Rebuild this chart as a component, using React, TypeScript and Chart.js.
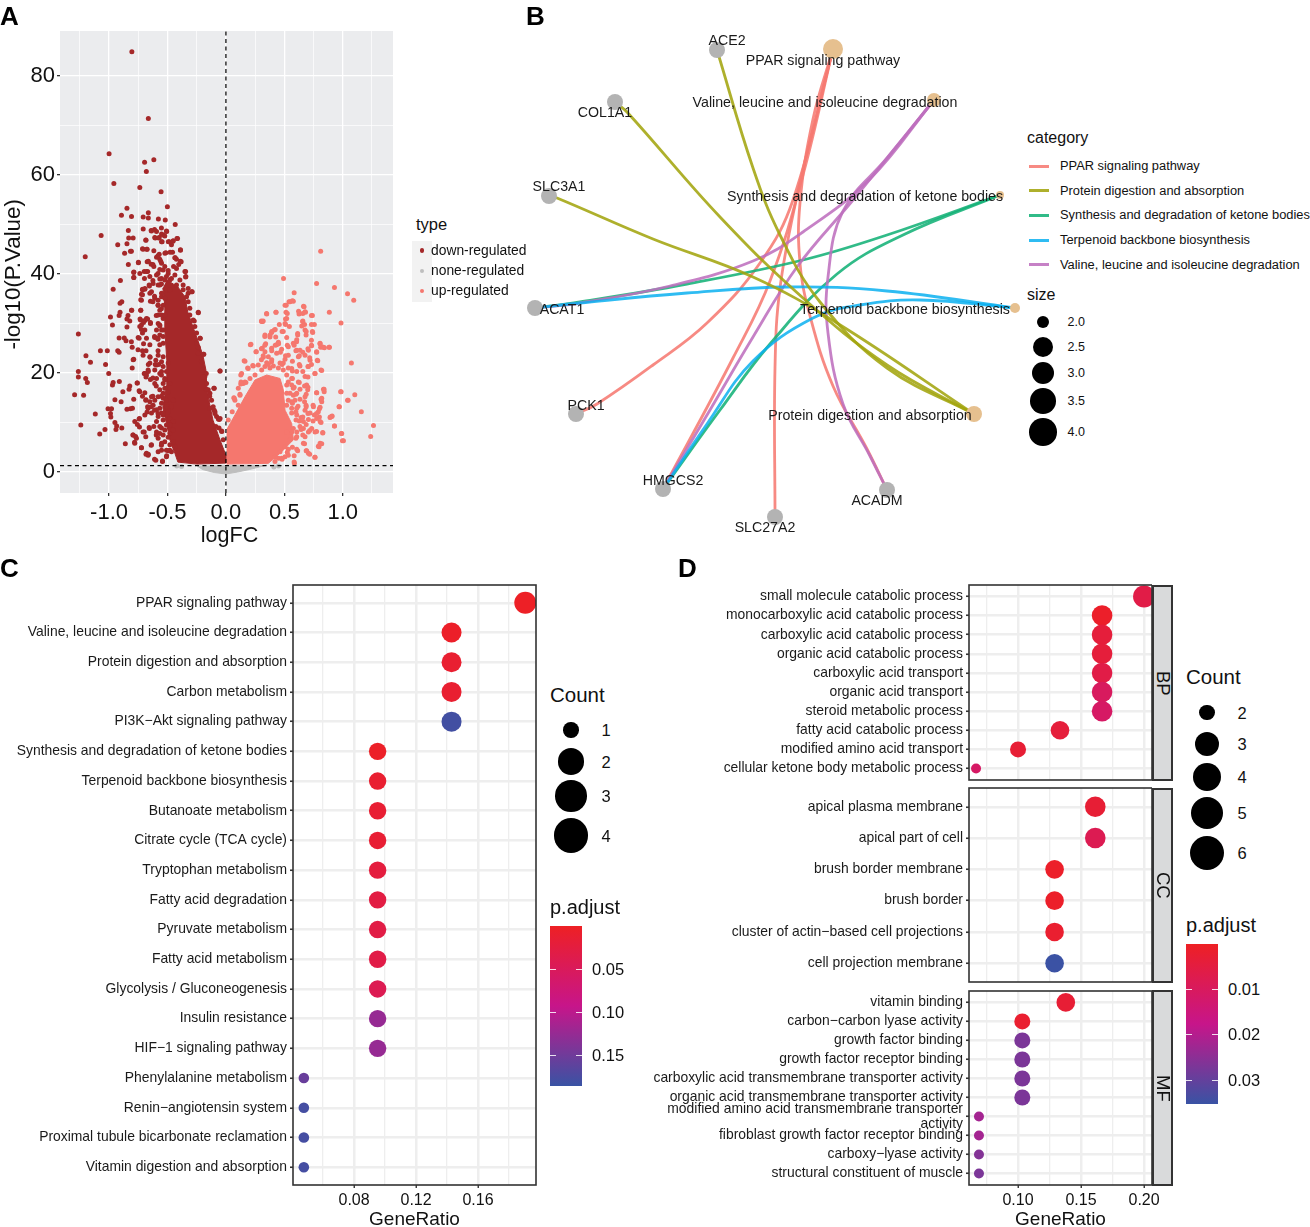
import React, { useEffect, useRef } from "react";
import { Chart, registerables } from "chart.js";

Chart.register(...registerables);
const FONT = '"Liberation Sans", Arial, sans-serif';
Chart.defaults.font.family = FONT;
Chart.defaults.color = "#111";

/* ---------- Panel A: values. The solid core of each cloud,
   where single dots cannot be told apart, is its traced outline. ---------- */
const volcanoXMajor = [-1, -0.5, 0, 0.5, 1];
const volcanoXMinor = [-1.25, -0.75, -0.25, 0.25, 0.75, 1.25];
const volcanoYMajor = [0, 20, 40, 60, 80];
const volcanoYMinor = [10, 30, 50, 70];
const downCore = [[-0.506,38.8],[-0.411,37.4],[-0.351,35.4],[-0.326,32.3],[-0.266,28.3],[-0.197,23.6],[-0.171,20.6],[-0.163,17.2],[-0.146,14.5],[-0.111,10.5],[-0.051,6.5],[0,3.4],[0,1.8],[-0.248,1.6],[-0.411,2],[-0.437,3.8],[-0.48,6.5],[-0.506,9.5],[-0.54,13.1],[-0.506,17.6],[-0.506,22.6],[-0.523,28.7],[-0.523,33.7],[-0.54,37.2]];
const upCore = [[0.006,8.5],[0.077,11.5],[0.163,15.2],[0.249,18.6],[0.349,19.6],[0.463,18.9],[0.491,16.6],[0.506,12.5],[0.563,9.8],[0.577,6.5],[0.477,4.1],[0.363,1.75],[0.006,1.6]];
const noneCore = [[-0.25,1.3],[-0.2,0.5],[-0.1,-0.1],[0,-0.4],[0.1,0],[0.2,0.5],[0.35,1.4]];
const downDots = [[-0.805,84.9],[-0.664,71.4],[-1,64.3],[-0.696,62.6],[-0.617,63.1],[-0.681,60.7],[-0.959,58.3],[-0.737,57.5],[-0.555,56.6],[-0.501,53.6],[-0.847,53.3],[-0.894,51.9],[-0.808,51.6],[-0.664,52.4],[-0.708,51.5],[-0.664,51.3],[-1.068,47.8],[-1.204,43.5],
[-1.263,27.9],[-1.263,20.3],[-1.263,19.2],[-1.295,15.6],[-1.242,9.5],[-1.218,15.5],[-1.198,23.5],[-1.159,22.2],[-1.2,18.9],[-1.186,18.1],[-1.118,11.7],[-1.08,7.7],[-1.074,24.5],[-1.015,24.5],[-1.03,21.7],[-1.003,19.9],[-1.035,8.6],[-1.009,12.8],[-0.979,12.8],[-0.988,11.8],[-0.985,11.1],[-0.965,18.1],[-0.971,17.6],[-0.912,18.3],[-0.988,31.3],[-0.971,29.7],[-0.965,36.9],[-0.903,38.7],[-0.926,45.9],[-0.867,44.2],[-0.817,44.6],[-0.847,46.1],[-0.832,47.3],[-0.835,48.8],[-0.794,47.3],[-0.708,49.1],[-0.835,41.9],[-0.749,42.3],[-0.788,40.4],[-0.788,39.3],[-0.699,40.5],[-0.67,40.5],[-0.664,42.6],[-0.625,41.9],[-0.714,45.1],[-0.678,45],[-0.684,46.8],[-0.64,48.8],[-0.611,49],[-0.605,47.3],[-0.575,47.3],[-0.546,46.5],[-0.493,46.5],[-0.454,46.6],[-0.419,47.2],[-0.507,48.6],[-0.552,49.3],[-0.434,50],[-0.519,50.9],[-0.578,51.1],[-0.389,44.9],[-0.478,44.4],[-0.522,44.2],[-0.434,43.3],[-0.389,42.6],[-0.581,43.7],[-0.558,42.6],
[-0.891,34.4],[-0.906,34.1],[-0.906,32.3],[-0.914,31.6],[-0.808,32.7],[-0.838,31.6],[-0.847,30.9],[-0.823,30.5],[-0.847,29.3],[-0.729,32.7],[-0.729,34.8],[-0.723,35.9],[-0.714,36.9],[-0.693,37.1],[-0.735,30.9],[-0.705,30.2],[-0.723,28.8],[-0.743,27],[-0.705,25.9],[-0.67,30.9],[-0.646,30.2],[-0.914,27.1],[-0.87,27.1],[-0.855,26.5],[-0.926,24.5],[-0.914,24.2],[-0.802,25.2],[-0.794,22.7],[-0.802,21],[-0.752,24.7],[-0.714,24.5],[-0.684,24.5],[-0.649,23.2],[-0.664,21.7],[-0.758,18],[-0.823,17.4],[-0.829,16.7],[-0.882,16.2],[-0.897,14.2],[-0.95,14.6],[-0.847,12.7],[-0.817,12.8],[-0.95,10],[-0.935,9.3],[-0.941,8.6],[-0.891,8.9],[-0.861,5.7],[-0.796,7.5],[-0.782,6],[-0.773,7.2],[-0.743,10.7],[-0.758,9.6],[-0.74,9.1],[-0.723,4.9],[-0.684,3.6],[-0.64,5.4],[-0.664,3.6],[-0.743,16.4],[-0.714,15.3],[-0.684,14.6],[-0.67,13.2],[-0.675,12.1],[-0.625,15.3],[-0.64,13.2],[-0.699,8.1],[-0.655,8.8],[-0.611,12.5],[-0.664,20.3],[-0.699,19.9],[-0.684,19.2],[-0.625,19],[-0.605,21.7],[-0.581,24.5],[-0.611,27.4],[-0.581,27],[-0.566,29.5],[-0.625,34.4],[-0.611,35.5],[-0.655,37.6],[-0.625,38.7],[-0.581,40.1],[-0.566,39],[-0.552,38],[-0.537,40.8],[-0.581,33.7],[-0.552,33],[-0.596,31.6],[-0.575,21.7],[-0.552,19.6],[-0.596,17.4],[-0.552,15.3],[-0.581,11.8],[-0.552,8.9],[-0.596,7.5],[-0.552,5.4],[-0.507,3.3],[-0.611,2.6],[-0.543,2.2],[-0.493,4.3],[-0.537,11.8],
[-0.05,20.4],[-0.103,16.9],[-0.1,12.5],[-0.065,10.7],[-0.05,10.8],[-0.035,8.2],[-0.236,32.2],[-0.292,36.4],[-0.192,23.8],[-0.221,27],[-0.271,30.5],[-0.345,40.5],[-0.345,39.4],[-0.168,19.9],[-0.198,19.2],[-0.139,15.3],[-0.168,16.7],[-0.094,11.8],[-0.059,8.9],[-0.404,41.9],[-0.448,41.5]];
const downDotsLower = [[-0.709,23.6],[-0.651,23.3],[-0.789,22.8],[-0.6,22.6],[-0.551,22.3],[-0.651,22],[-0.594,21.6],[-0.537,21.3],[-0.666,20.6],[-0.694,19.9],[-0.609,20.6],[-0.551,20.3],[-0.68,19.6],[-0.646,18.7],[-0.594,18.9],[-0.523,18.9],[-0.537,17.9],[-0.609,17.9],[-0.76,18],[-0.48,17.9],[-0.566,16.6],[-0.523,16.9],[-0.737,16.2],[-0.694,16],[-0.637,15.2],[-0.686,14.5],[-0.651,14.2],[-0.609,14.5],[-0.537,14.9],[-0.789,14.7],[-0.623,13.5],[-0.666,12.9],[-0.566,12.9],[-0.509,13.2],[-0.8,12.9],[-0.694,11.5],[-0.637,11.9],[-0.551,11.9],[-0.509,11.5],[-0.594,10.2],[-0.74,10.8],[-0.78,10.2],[-0.537,10.5],[-0.48,10.8],[-0.566,9.2],[-0.509,9.5],[-0.451,10.2],[-0.657,9],[-0.709,8.1],[-0.686,7.1],[-0.594,8.1],[-0.537,7.5],[-0.58,6.8],[-0.48,7.8],[-0.523,6.1],[-0.794,7.5],[-0.766,6.8],[-0.78,5.8],[-0.637,5.5],[-0.723,4.9],[-0.68,3.8],[-0.666,3.4],[-0.58,4.1],[-0.551,4.4],[-0.509,3.1],[-0.466,4.1],[-0.48,5.5],[-0.6,2.4],[-0.543,2.1],[-0.451,6.1],
[-0.051,20.4],[-0.1,16.9],[-0.137,15.9],[-0.137,12.9],[-0.094,12.2],[-0.123,14.5],[-0.057,10.6],[-0.086,9.2],[-0.037,8.3],[-0.023,6.5],[-0.189,23.8],[-0.237,24],[-0.209,22.3],[-0.2,20.6],[-0.18,19.3],[-0.166,17.9],[-0.151,16.6],[-0.109,13.2],[-0.08,11.2],
[-0.494,16.2],[-0.537,15.9],[-0.58,15.2],[-0.509,14.5],[-0.551,13.9],[-0.594,12.6],[-0.494,12.2],[-0.537,11.5],[-0.58,11.2],[-0.48,9.5],[-0.523,8.5],[-0.566,7.8],[-0.451,8.5],[-0.494,7],[-0.551,5.8],[-0.48,4.4],[-0.437,5.1],[-0.509,4.4],[-0.617,9.2],[-0.466,13.2],[-0.451,14.5],[-0.523,18.6],[-0.566,19.9],[-0.509,20.3],[-0.494,22],[-0.537,23.3],[-0.58,23.6]];
const downDotsUpper = [[-0.637,48.7],[-0.594,48.6],[-0.551,48.1],[-0.537,47.9],[-0.509,48.7],[-0.609,47.4],[-0.571,47.4],[-0.523,47.7],[-0.414,47.2],[-0.451,46.7],[-0.486,46.5],[-0.551,46.5],[-0.686,46.9],[-0.466,45.9],[-0.709,45],[-0.674,45],[-0.617,44.7],[-0.389,44.8],[-0.809,44.6],[-0.514,44.3],[-0.457,44.4],[-0.571,44],[-0.594,43.4],[-0.437,43.3],[-0.423,43],[-0.566,43],[-0.674,42.5],[-0.383,42.5],[-0.749,42.4],[-0.551,42.2],[-0.64,42],[-0.523,41.5],[-0.617,41.5],[-0.566,40.9],[-0.423,41.1],[-0.494,40.7],[-0.351,40.5],[-0.789,40.3],[-0.737,40.1],[-0.68,40.5],[-0.594,39.8],[-0.651,39.5],[-0.343,39.5],[-0.789,39.3],[-0.697,39.1],[-0.394,38.8],[-0.437,39.8],[-0.551,39.1],[-0.623,38.1],[-0.657,37.8],[-0.366,37.8],[-0.58,37.8],[-0.694,36.9],[-0.714,36.8],[-0.637,36.4],[-0.651,36.1],[-0.289,36.4],[-0.323,36.1],[-0.714,35.8],[-0.723,34.7],[-0.609,35.1],[-0.646,34.5],[-0.58,34.7],[-0.551,35.4],[-0.323,34.4],[-0.309,33.1],[-0.566,32.7],[-0.729,32.7],[-0.237,32.3],[-0.806,32.7],[-0.58,31.7],[-0.537,31],[-0.68,31],[-0.731,30.7],[-0.694,30.6],[-0.646,30],[-0.566,29.7],[-0.723,29.7],[-0.737,29.4],[-0.266,29.4],[-0.551,28.7],[-0.694,28.7],[-0.251,28.1],[-0.714,28.1],[-0.566,27.7],[-0.22,27],[-0.609,27.2],[-0.68,27],[-0.751,27.2],[-0.583,26.8],[-0.251,26],[-0.237,25.2],[-0.537,26],[-0.651,25.7],[-0.809,26.3],[-0.28,30.7],[-0.309,31.7],[-0.509,39.5],[-0.48,38.8],
[-0.509,36.8],[-0.551,36.1],[-0.523,35.1],[-0.58,33.7],[-0.537,33.7],[-0.551,31.7],[-0.58,30],[-0.537,28.7],[-0.566,25.7],[-0.537,27.4],[-0.594,28.7],[-0.523,31.7],[-0.48,36.8],[-0.566,37.8],[-0.523,38.8],[-0.494,40.1],[-0.466,39.1],[-0.423,37.8],[-0.366,36.8],[-0.337,35.4],[-0.323,37.1]];
const upDots = [[0.811,44.6],[0.493,39.1],[0.776,38.1],[0.929,37.3],[1.041,36],[1.094,34.7],[0.584,36.2],[0.54,34.4],[0.569,34.6],[0.516,33.7],[0.664,33.5],[0.885,32.3],[0.622,32.5],[0.658,32],[0.681,32.3],[0.732,31.6],[0.428,32.3],[0.348,32],[0.525,32],[0.985,30.1],[0.304,30.5],[0.319,30.5],[0.51,30.9],[0.51,29.8],[0.673,29.8],[0.658,30.5],[0.732,29.8],[0.74,28.4],[0.687,28.4],[0.422,28.8],[0.392,28.4],[0.481,28.4],[0.378,27.7],[0.614,27.7],[0.732,26.6],[0.333,27.4],[0.605,26.3],[0.209,25.7],[0.333,25.6],[0.422,25.6],[0.451,25.9],[0.525,25.6],[0.584,25.6],[0.702,24.9],[0.732,25.6],[0.805,25.9],[0.811,25.2],[0.835,25.2],[0.882,25.2],[0.304,24.9],[0.26,24.3],[0.392,24.5],[0.466,24.2],[0.599,24.5],[0.658,24.2],[0.776,24.3],[0.319,23.5],[0.51,23.5],[0.628,23.5],[0.717,23.1],[0.304,22.7],[0.156,22.5],[0.392,22.7],[0.569,22.4],[0.782,22.6],[1.074,22],[0.363,21.7],[0.481,21.7],[0.628,21.7],[0.732,21.7],[0.702,21.3],[0.23,21.5],[0.127,19.6],[0.186,21],[0.814,20.6],[0.569,20.4],[0.658,20.3],[0.761,19.9],[0.569,18.9],[0.702,19.2],[0.628,18.1],[0.127,17.8],[0.171,18.1],[0.673,17.4],[0.584,17.1],[0.702,17.1],[0.835,16.7],[0.982,16.2],[0.776,16],[0.841,16.2],[0.599,15.7],[0.687,15.7],[1.103,15.6],[0.814,14.7],[1.041,14.5],[0.068,15],[0.121,15.5],[0.673,14.2],[0.569,13.9],[0.746,13.5],[0.687,13.2],[0.617,13.3],[0.8,12.8],[0.968,13.2],[0.599,12.1],[1.159,12.2],[0.776,11.8],[0.8,11.1],[0.658,11.1],[0.702,11.8],[0.894,11.1],[0.909,11.3],[0.628,10.3],[0.746,10.3],[0.814,10],[0.687,9.6],[0.929,9.3],[1.263,9.4],[0.643,8.6],[0.717,8.4],[0.776,8.2],[0.988,7.8],[0.829,7.9],[1.239,7.2],[0.997,6.3],[0.658,7.5],[0.599,6.8],[0.673,5.7],[0.82,5.7],[0.791,5.2],[0.569,5],[0.614,4.3],[0.687,4.3],[0.717,3.6],[0.584,3.3],[0.761,3],[0.584,2],[0.481,2.6],[0.525,4]];
const upDotsFine = [[0.549,34.4],[0.577,34.5],[0.506,33.7],[0.669,33.4],[0.677,32.4],[0.349,31.9],[0.429,32.3],[0.626,31.9],[0.74,31.6],[0.514,32.3],[0.306,30.4],[0.314,30.4],[0.52,31],[0.506,30],[0.457,29.8],[0.657,30.4],[0.649,29.5],[0.757,29.8],[0.543,29.4],[0.491,28.4],[0.414,28.7],[0.391,28.2],[0.334,27.7],[0.677,28.7],[0.743,28.2],[0.614,28],[0.686,27.7],[0.52,27.2],[0.377,27.3],[0.426,27.3],[0.606,26.7],[0.577,26],[0.449,26.2],[0.34,25.9],[0.214,25.8],[0.434,25.7],[0.534,25.3],[0.806,26],[0.82,25.3],[0.843,25.1],[0.886,25.2],[0.734,25.5],[0.391,25],[0.311,25],[0.477,24.8],[0.606,24.6],[0.634,24.6],[0.706,24.6],[0.257,24.3],[0.334,24.3],[0.777,24.2],[0.434,24],[0.534,23.6],[0.677,23.6],[0.32,23.2],[0.62,23.3],[0.363,23.3],[0.506,22.8],[0.72,22.6],[0.786,22.5],[0.163,22.4],[0.349,22.1],[0.491,22],[0.634,21.4],[0.406,21.4],[0.234,21.4],[0.563,20.9],[0.706,21.3],[0.191,20.9],[0.82,20.5],[0.134,19.9],[0.763,19.9],[0.606,20.3],[0.677,19.3],[0.563,18.9],[0.129,18.2],[0.62,18.2],[0.691,17.6],[0.163,18.2],[0.52,17.6],[0.577,16.9],[0.634,16.7],[0.7,16.6],[0.84,16.7],[0.606,15.9],[0.777,16],[0.986,16.2],[0.12,15.7],[0.677,15.2],[0.549,15.9],[0.634,14.7],[0.82,14.9],[1.046,14.5],[0.071,14.9],[0.563,14.2],[0.82,14.2],[0.686,13.5],[0.106,13.5],[0.749,13.2],[0.971,13.2],[0.606,12.9],[0.806,13.1],[0.054,12.2],[0.791,12.2],[0.677,12.5],[0.72,11.9],[0.563,11.9],[0.757,11.5],[0.906,11.2],[0.891,11],[0.643,11],[0.777,10.8],[0.706,10.6],[0.6,10.5],[0.806,10.2],[0.663,10.2],[0.02,10.5],[0.929,9.3],[0.634,9.2],[0.734,8.8],[0.663,8.8],[0.763,8.1],[0.606,8.1],[0.706,8.1],[0.829,8],[0.991,7.8],[0.677,7.1],[1.006,6.3],[0.806,5.8],[0.663,5.8],[0.797,5.1],[0.534,4.6],[0.606,4.6],[0.691,4.3],[0.706,3.8],[0.534,3.4],[0.763,3],[0.506,3.1],[0.586,1.75],[0.449,2.8],[0.42,2.1],
[0.277,21.6],[0.334,21.3],[0.377,21],[0.449,21],[0.491,20.6],[0.52,19.6],[0.534,21],[0.463,22],[0.391,22.3],[0.306,20.6],[0.249,19.6],[0.206,18.9],[0.149,17.9],[0.106,16.9],[0.077,14.5],[0.534,18.2],[0.563,17.6],[0.52,15.9],[0.534,14.5],[0.52,13.5],[0.563,12.9],[0.606,11.5],[0.577,8.8],[0.606,7.1],[0.549,6.5],[0.563,8.1],[0.506,5.1],[0.463,4.1],[0.42,3.1],[0.477,2.8],[0.52,8.1],[0.591,14.5],[0.577,15.5]];
const noneDots = [[-0.42,1.2],[-0.38,1.1],[0.45,1.2],[0.41,1]];
const volcanoLegend = ["down-regulated", "none-regulated", "up-regulated"];

/* ---------- Panel B: network layout ---------- */
const cnetCategories = ["PPAR signaling pathway", "Protein digestion and absorption", "Synthesis and degradation of ketone bodies", "Terpenoid backbone biosynthesis", "Valine, leucine and isoleucine degradation"];
const cnetCatColors = ["rgba(246,122,114,0.88)", "rgba(163,165,15,0.88)", "rgba(20,178,120,0.88)", "rgba(10,176,240,0.85)", "rgba(190,112,190,0.88)"];
const cnetEdges = [
  { cat: 1, path: [[974,414],[887,368],[820,302],[780,235],[753,168],[717,50]] },
  { cat: 1, path: [[974,414],[887,365],[803,298],[720,217],[627,112],[615,102]] },
  { cat: 1, path: [[974,414],[837,323],[753,277],[653,239],[557,198],[549,196]] },
  { cat: 3, path: [[1015,308],[887,291],[787,287],[687,293],[580,303],[535,308]] },
  { cat: 3, path: [[1015,308],[920,300],[860,305],[813,318],[753,361],[707,424],[663,489]] },
  { cat: 4, path: [[934,100],[870,179],[803,232],[753,261],[670,286],[580,303],[535,308]] },
  { cat: 4, path: [[934,100],[853,200],[797,267],[753,337],[710,410],[663,489]] },
  { cat: 4, path: [[934,100],[887,158],[843,211],[828,277],[828,333],[843,404],[870,456],[887,490]] },
  { cat: 2, path: [[1000,195],[887,235],[803,260],[687,284],[580,302],[535,308]] },
  { cat: 2, path: [[1000,195],[903,235],[837,274],[770,344],[720,410],[663,489]] },
  { cat: 0, path: [[833,49],[793,200],[760,263],[707,323],[653,365],[597,404],[576,414]] },
  { cat: 0, path: [[833,49],[803,175],[770,281],[733,358],[663,489]] },
  { cat: 0, path: [[833,49],[818,109],[797,196],[780,288],[775,368],[775,517]] },
  { cat: 0, path: [[833,49],[813,119],[800,203],[800,263],[810,316],[833,386],[867,449],[887,490]] },
];
const geneNames = ["ACE2", "COL1A1", "SLC3A1", "ACAT1", "PCK1", "HMGCS2", "SLC27A2", "ACADM"];
const geneNodes = [[717,50],[615,102],[549,196],[535,308],[576,414],[663,489],[775,517],[887,490]];
const geneLabelAt = [[727,41],[605,113],[559,187],[562,310],[586,406],[673,481],[765,528],[877,501]];
const catNodes = [[833,49],[934,100],[1000,195],[1015,308],[974,414]];
const catNodeSizes = [10,7,4,5,8];
const catLabels = ["PPAR signaling pathway", "Valine, leucine and isoleucine degradation", "Synthesis and degradation of ketone bodies", "Terpenoid backbone biosynthesis", "Protein digestion and absorption"];
const catLabelAt = [[823,61],[825,103],[865,197],[905,310],[870,416]];

/* ---------- Panel C ---------- */
const cTerms = ["PPAR signaling pathway","Valine, leucine and isoleucine degradation","Protein digestion and absorption","Carbon metabolism","PI3K\u2212Akt signaling pathway","Synthesis and degradation of ketone bodies","Terpenoid backbone biosynthesis","Butanoate metabolism","Citrate cycle (TCA cycle)","Tryptophan metabolism","Fatty acid degradation","Pyruvate metabolism","Fatty acid metabolism","Glycolysis / Gluconeogenesis","Insulin resistance","HIF\u22121 signaling pathway","Phenylalanine metabolism","Renin\u2212angiotensin system","Proximal tubule bicarbonate reclamation","Vitamin digestion and absorption"];
const cRatio = [0.1905,0.1429,0.1429,0.1429,0.1429,0.0952,0.0952,0.0952,0.0952,0.0952,0.0952,0.0952,0.0952,0.0952,0.0952,0.0952,0.0476,0.0476,0.0476,0.0476];
const cCount = [4,3,3,3,3,2,2,2,2,2,2,2,2,2,2,2,1,1,1,1];
const cPadj = [0.002,0.005,0.012,0.012,0.18,0.004,0.012,0.014,0.015,0.024,0.028,0.03,0.032,0.042,0.125,0.125,0.155,0.178,0.178,0.178];
const cPadjMax = 0.186;
const cXMajor = [0.08,0.12,0.16];
const cXMinor = [0.06,0.1,0.14,0.18];

/* ---------- Panel D ---------- */
const bpTerms = ["small molecule catabolic process","monocarboxylic acid catabolic process","carboxylic acid catabolic process","organic acid catabolic process","carboxylic acid transport","organic acid transport","steroid metabolic process","fatty acid catabolic process","modified amino acid transport","cellular ketone body metabolic process"];
const bpRatio = [0.2,0.1667,0.1667,0.1667,0.1667,0.1667,0.1667,0.1333,0.1,0.0667];
const bpCount = [6,5,5,5,5,5,5,4,3,2];
const bpPadj = [0.006,0.001,0.004,0.004,0.006,0.01,0.011,0.004,0.003,0.011];
const ccTerms = ["apical plasma membrane","apical part of cell","brush border membrane","brush border","cluster of actin\u2212based cell projections","cell projection membrane"];
const ccRatio = [0.1613,0.1613,0.129,0.129,0.129,0.129];
const ccCount = [5,5,4,4,4,4];
const ccPadj = [0.003,0.008,0.001,0.001,0.002,0.035];
const mfTerms = ["vitamin binding","carbon\u2212carbon lyase activity","growth factor binding","growth factor receptor binding","carboxylic acid transmembrane transporter activity","organic acid transmembrane transporter activity",["modified amino acid transmembrane transporter","activity"],"fibroblast growth factor receptor binding","carboxy\u2212lyase activity","structural constituent of muscle"];
const mfRatio = [0.1379,0.1034,0.1034,0.1034,0.1034,0.1034,0.069,0.069,0.069,0.069];
const mfCount = [4,3,3,3,3,3,2,2,2,2];
const mfPadj = [0.003,0.002,0.027,0.027,0.027,0.027,0.022,0.022,0.026,0.027];
const dPadjMax = 0.0352;
const dXMajor = [0.1,0.15,0.2];
const dXMinor = [0.075,0.125,0.175];

const cCountLabels = [1,2,3,4];
const dCountLabels = [2,3,4,5,6];
const sizeLabels = ["2.0","2.5","3.0","3.5","4.0"];
const cBarLabels = ["0.05","0.10","0.15"];
const dBarLabels = ["0.01","0.02","0.03"];

const cRadius: any = { 1: 5.3, 2: 8.7, 3: 10, 4: 11 };
const dRadius: any = { 2: 5, 3: 8, 4: 9.3, 5: 10.3, 6: 11 };

const STOPS = [[238,32,36],[199,21,138],[57,83,164]];
function padjColor(v: number, max: number) {
  const f = Math.min(1, v / max) * 2;
  const i = f >= 1 ? 1 : 0;
  const t = f - i;
  const c = STOPS[i].map((s, k) => Math.round(s + (STOPS[i + 1][k] - s) * t));
  return `rgb(${c.join(",")})`;
}
const BAR_GRADIENT = "linear-gradient(to bottom, rgb(238,32,36), rgb(199,21,138), rgb(57,83,164))";

const plotFrame = (bg: string | null, border: boolean) => ({
  id: "plotFrame",
  beforeDraw(chart: any) {
    if (!bg) return;
    const { ctx, chartArea: a } = chart;
    ctx.save();
    ctx.fillStyle = bg;
    ctx.fillRect(a.left, a.top, a.right - a.left, a.bottom - a.top);
    ctx.restore();
  },
  afterDraw(chart: any) {
    if (!border) return;
    const { ctx, chartArea: a } = chart;
    ctx.save();
    ctx.strokeStyle = "#333";
    ctx.lineWidth = 1.6;
    ctx.strokeRect(a.left, a.top, a.right - a.left, a.bottom - a.top);
    ctx.restore();
  },
});

const cnetText = {
  id: "cnetText",
  afterDraw(chart: any) {
    const { ctx, scales } = chart;
    ctx.save();
    ctx.font = `14.2px ${FONT}`;
    ctx.fillStyle = "#1a1a1a";
    ctx.textAlign = "center";
    ctx.textBaseline = "middle";
    const put = (s: string, p: number[]) => ctx.fillText(s, scales.x.getPixelForValue(p[0]), scales.y.getPixelForValue(p[1]));
    geneNames.forEach((s, i) => put(s, geneLabelAt[i]));
    catLabels.forEach((s, i) => put(s, catLabelAt[i]));
    ctx.restore();
  },
};

const fixedSize = (prop: "width" | "height", n: number) => (axis: any) => {
  axis[prop] = n;
  axis.paddingLeft = axis.paddingRight = axis.paddingTop = axis.paddingBottom = 0;
};
const pts = (a: number[][]) => a.map(([x, y]) => ({ x, y }));

function volcanoConfig() {
  const core = (data: number[][], color: string, order: number) => ({
    type: "scatter", data: pts(data), showLine: true, fill: "shape", backgroundColor: color,
    borderColor: color, borderWidth: 1, pointRadius: 0, tension: 0, order,
  });
  const dots = (data: number[][], color: string, order: number) => ({
    type: "scatter", data: pts(data), backgroundColor: color, borderWidth: 0, pointRadius: 2.5, order,
  });
  const dash = (data: number[][]) => ({
    type: "scatter", data: pts(data), showLine: true, borderColor: "#000", borderWidth: 1.2,
    borderDash: [4, 3.5], pointRadius: 0, order: 0,
  });
  return {
    type: "scatter",
    data: {
      datasets: [
        dash([[0, -4.24], [0, 89.1]]),
        dash([[-1.42, 1.3], [1.43, 1.3]]),
        dots(upDots, "#F5776E", 1), dots(upDotsFine, "#F5776E", 1), core(upCore, "#F5776E", 1),
        dots(downDots, "#A52829", 2), dots(downDotsLower, "#A52829", 2), dots(downDotsUpper, "#A52829", 2), core(downCore, "#A52829", 2),
        dots(noneDots, "#BEBEBE", 3), core(noneCore, "#BEBEBE", 3),
      ],
    },
    options: {
      responsive: false, animation: false, events: [],
      layout: { autoPadding: false, padding: { top: 11, right: 12, left: 0, bottom: 0 } },
      plugins: { legend: { display: false }, tooltip: { enabled: false } },
      scales: {
        x: {
          type: "linear", min: -1.42, max: 1.43,
          afterBuildTicks: (a: any) => { a.ticks = [...volcanoXMajor, ...volcanoXMinor].sort((p, q) => p - q).map((value) => ({ value })); },
          afterFit: fixedSize("height", 57),
          ticks: { autoSkip: false, maxRotation: 0, padding: 4, color: "#111", font: { size: 22 },
            callback: (v: number) => (volcanoXMajor.includes(v) ? v.toFixed(1) : "") },
          grid: { color: "#fff", tickLength: 3,
            lineWidth: (c: any) => (volcanoXMajor.includes(c.tick?.value) ? 1.3 : 0.7),
            tickColor: (c: any) => (volcanoXMajor.includes(c.tick?.value) ? "#333" : "transparent") },
          border: { display: false },
          title: { display: true, text: " logFC", color: "#111", font: { size: 21.5 }, padding: { top: 0, bottom: 1 } },
        },
        y: {
          type: "linear", min: -4.24, max: 89.1,
          afterBuildTicks: (a: any) => { a.ticks = [...volcanoYMajor, ...volcanoYMinor].sort((p, q) => p - q).map((value) => ({ value })); },
          afterFit: fixedSize("width", 60),
          ticks: { autoSkip: false, padding: 2, color: "#111", font: { size: 22 },
            callback: (v: number) => (volcanoYMajor.includes(v) ? String(v) : "") },
          grid: { color: "#fff", tickLength: 3,
            lineWidth: (c: any) => (volcanoYMajor.includes(c.tick?.value) ? 1.3 : 0.7),
            tickColor: (c: any) => (volcanoYMajor.includes(c.tick?.value) ? "#333" : "transparent") },
          border: { display: false },
          title: { display: true, text: "-log10(P.Value)    ", color: "#111", font: { size: 22.3 }, padding: { top: 0, bottom: 0 } },
        },
      },
    },
    plugins: [plotFrame("#EBECEE", false)],
  };
}

function cnetConfig() {
  return {
    type: "scatter",
    data: {
      datasets: [
        { data: pts(geneNodes), backgroundColor: "#B3B3B3", pointRadius: 8, borderWidth: 0, order: 1 },
        { data: pts(catNodes), backgroundColor: "#E6C08F", pointRadius: catNodeSizes, borderWidth: 0, order: 1 },
        ...cnetEdges.map((e, i) => ({
          data: pts(e.path), showLine: true, borderColor: cnetCatColors[e.cat], borderWidth: 2.8,
          pointRadius: 0, tension: 0.4, order: 2 + i,
        })),
      ],
    },
    options: {
      responsive: false, animation: false, events: [],
      layout: { autoPadding: false, padding: 0 },
      plugins: { legend: { display: false }, tooltip: { enabled: false } },
      scales: {
        x: { type: "linear", display: false, min: 520, max: 1020 },
        y: { type: "linear", display: false, min: 20, max: 545, reverse: true },
      },
    },
    plugins: [cnetText],
  };
}

function dotConfig(o: any) {
  const { terms, ratio, count, padj, padjMax, radius, xMin, xMax, xMajor, xMinor, yWidth, xHeight, showX, padTop, padBottom, padRight } = o;
  return {
    type: "scatter",
    data: {
      datasets: [{
        data: terms.map((_: any, i: number) => ({ x: ratio[i], y: i })),
        pointRadius: count.map((c: number) => radius[c]),
        backgroundColor: padj.map((v: number) => padjColor(v, padjMax)),
        borderWidth: 0,
      }],
    },
    options: {
      responsive: false, animation: false, events: [],
      layout: { autoPadding: false, padding: { top: padTop, bottom: padBottom, right: padRight, left: 0 } },
      plugins: { legend: { display: false }, tooltip: { enabled: false } },
      scales: {
        x: {
          type: "linear", min: xMin, max: xMax,
          afterBuildTicks: (a: any) => { a.ticks = [...xMajor, ...xMinor].sort((p: number, q: number) => p - q).map((value: number) => ({ value })); },
          afterFit: fixedSize("height", xHeight),
          ticks: { display: showX, autoSkip: false, maxRotation: 0, padding: 3, color: "#111", font: { size: 16 },
            callback: (v: number) => (xMajor.includes(v) ? v.toFixed(2) : "") },
          grid: { color: "#EEEEEE", drawTicks: showX, tickLength: 3, tickWidth: 1.4,
            lineWidth: (c: any) => (xMajor.includes(c.tick?.value) ? 2.5 : 1.3),
            tickColor: (c: any) => (xMajor.includes(c.tick?.value) ? "#333" : "transparent") },
          border: { display: false },
          title: { display: showX, text: "GeneRatio", color: "#111", font: { size: 19 }, padding: { top: 0, bottom: 3.6 } },
        },
        y: {
          type: "linear", reverse: true, min: -0.6, max: terms.length - 0.4,
          afterBuildTicks: (a: any) => { a.ticks = terms.map((_: any, i: number) => ({ value: i })); },
          afterFit: fixedSize("width", yWidth),
          ticks: { autoSkip: false, padding: 3, color: "#1a1a1a", font: { size: 13.9, lineHeight: 1.08 },
            callback: (v: number) => terms[v] },
          grid: { color: "#EEEEEE", lineWidth: 2.5, tickLength: 3, tickWidth: 1.6, tickColor: "#333" },
          border: { display: false },
        },
      },
    },
    plugins: [plotFrame(null, true)],
  };
}

function Plot({ left, top, width, height, make }: any) {
  const ref = useRef<HTMLCanvasElement>(null);
  useEffect(() => {
    const chart = new Chart(ref.current as any, make());
    return () => chart.destroy();
  }, []);
  return <canvas ref={ref} width={width} height={height} style={{ position: "absolute", left, top, width, height }} />;
}

function T({ x, y, size, bold, center, children }: any) {
  return (
    <div style={{ position: "absolute", left: x, top: y, transform: center ? "translate(-50%,-50%)" : "translateY(-50%)",
      fontSize: size, fontWeight: bold ? 700 : 400, whiteSpace: "nowrap", lineHeight: 1, color: bold ? "#000" : "#111" }}>
      {children}
    </div>
  );
}
function Disc({ x, y, r, color = "#000" }: any) {
  return <div style={{ position: "absolute", left: x - r, top: y - r, width: 2 * r, height: 2 * r, borderRadius: "50%", background: color }} />;
}
function Bar({ x, top, bottom, ticks, labels, labelX }: any) {
  return (
    <>
      <div style={{ position: "absolute", left: x, top, width: 32, height: bottom - top, background: BAR_GRADIENT }} />
      {ticks.map((y: number, i: number) => (
        <React.Fragment key={i}>
          <div style={{ position: "absolute", left: x, top: y - 0.5, width: 6, height: 1, background: "rgba(255,255,255,.85)" }} />
          <div style={{ position: "absolute", left: x + 26, top: y - 0.5, width: 6, height: 1, background: "rgba(255,255,255,.85)" }} />
          <T x={labelX} y={y} size={16.5}>{labels[i]}</T>
        </React.Fragment>
      ))}
    </>
  );
}
function Strip({ top, bottom, label }: any) {
  return (
    <div style={{ position: "absolute", left: 1152, top, width: 21, height: bottom - top, boxSizing: "border-box",
      border: "2.5px solid #333", background: "#D9DADB", display: "flex", alignItems: "center", justifyContent: "center" }}>
      <span style={{ writingMode: "vertical-rl", fontSize: 18.5, lineHeight: 1, color: "#111" }}>{label}</span>
    </div>
  );
}

export default function App() {
  const dShared = { padjMax: dPadjMax, radius: dRadius, xMin: 0.0611, xMax: 0.2063, xMajor: dXMajor, xMinor: dXMinor, yWidth: 329, padTop: 10 };
  return (
    <div style={{ position: "absolute", left: 0, top: 0, width: 1310, height: 1227, overflow: "hidden", fontFamily: FONT, background: "#fff" }}>
      <Plot left={0} top={20} width={405} height={530} make={volcanoConfig} />
      <Plot left={520} top={20} width={500} height={525} make={cnetConfig} />
      <Plot left={0} top={575} width={546} height={660} make={() => dotConfig({
        terms: cTerms, ratio: cRatio, count: cCount, padj: cPadj, padjMax: cPadjMax, radius: cRadius,
        xMin: 0.0406, xMax: 0.1974, xMajor: cXMajor, xMinor: cXMinor, yWidth: 293, xHeight: 50, showX: true, padTop: 10, padBottom: 0, padRight: 10 })} />
      <Plot left={640} top={575} width={512} height={211} make={() => dotConfig({ ...dShared, padRight: 0,
        terms: bpTerms, ratio: bpRatio, count: bpCount, padj: bpPadj, xHeight: 0, showX: false, padBottom: 6 })} />
      <Plot left={640} top={778} width={512} height={210} make={() => dotConfig({ ...dShared, padRight: 0,
        terms: ccTerms, ratio: ccRatio, count: ccCount, padj: ccPadj, xHeight: 0, showX: false, padBottom: 6 })} />
      <Plot left={640} top={981} width={540} height={254} make={() => dotConfig({ ...dShared, padRight: 28,
        terms: mfTerms, ratio: mfRatio, count: mfCount, padj: mfPadj, xHeight: 50, showX: true, padBottom: 0 })} />

      <T x={0} y={16} size={26} bold>A</T>
      <T x={526} y={16} size={26} bold>B</T>
      <T x={0} y={568} size={26} bold>C</T>
      <T x={678} y={568} size={26} bold>D</T>

      {/* A legend */}
      <T x={416} y={224} size={16.5}>type</T>
      <div style={{ position: "absolute", left: 412, top: 241, width: 20, height: 61, background: "#F2F2F2" }} />
      {volcanoLegend.map((s, i) => (
        <React.Fragment key={s}>
          <Disc x={422} y={250.5 + i * 20.3} r={2.2} color={["#A52829", "#BEBEBE", "#F5776E"][i]} />
          <T x={431} y={250.5 + i * 20.3} size={13.85}>{s}</T>
        </React.Fragment>
      ))}

      {/* B legend */}
      <T x={1027} y={138} size={16}>category</T>
      {cnetCategories.map((s, i) => (
        <React.Fragment key={s}>
          <div style={{ position: "absolute", left: 1029, top: Math.round(164.5 + i * 24.7), width: 20, height: 3, background: cnetCatColors[i] }} />
          <T x={1060} y={166 + i * 24.7} size={12.85}>{s}</T>
        </React.Fragment>
      ))}
      <T x={1027} y={295} size={16}>size</T>
      {sizeLabels.map((s, i) => {
        const y = [322, 347.3, 373, 401, 432][i];
        return (
          <React.Fragment key={s}>
            <Disc x={1043} y={y} r={[6.3, 10, 11.3, 12.8, 13.8][i]} />
            <T x={1067.5} y={y} size={12.5}>{s}</T>
          </React.Fragment>
        );
      })}

      {/* C legend */}
      <T x={550} y={695} size={20.5}>Count</T>
      {cCountLabels.map((c, i) => {
        const y = [730, 761.7, 796, 835.7][i];
        return (
          <React.Fragment key={c}>
            <Disc x={571} y={y} r={[7.7, 13.3, 15.7, 17.3][i]} />
            <T x={606} y={y} size={16.5} center>{c}</T>
          </React.Fragment>
        );
      })}
      <T x={550} y={907} size={20}>p.adjust</T>
      <Bar x={550} top={926} bottom={1085.7} ticks={[969, 1012, 1055]} labels={cBarLabels} labelX={592} />

      {/* D legend */}
      <Strip top={585} bottom={781} label="BP" />
      <Strip top={788} bottom={983} label="CC" />
      <Strip top={990} bottom={1186} label="MF" />
      <T x={1186} y={677} size={20.5}>Count</T>
      {dCountLabels.map((c, i) => {
        const y = [712.7, 744, 777, 813, 853][i];
        return (
          <React.Fragment key={c}>
            <Disc x={1207} y={y} r={[7.7, 12.3, 14.3, 16, 17.3][i]} />
            <T x={1242} y={y} size={16.5} center>{c}</T>
          </React.Fragment>
        );
      })}
      <T x={1186} y={925} size={20}>p.adjust</T>
      <Bar x={1186} top={944} bottom={1103.7} ticks={[989, 1034, 1080]} labels={dBarLabels} labelX={1228} />
    </div>
  );
}
